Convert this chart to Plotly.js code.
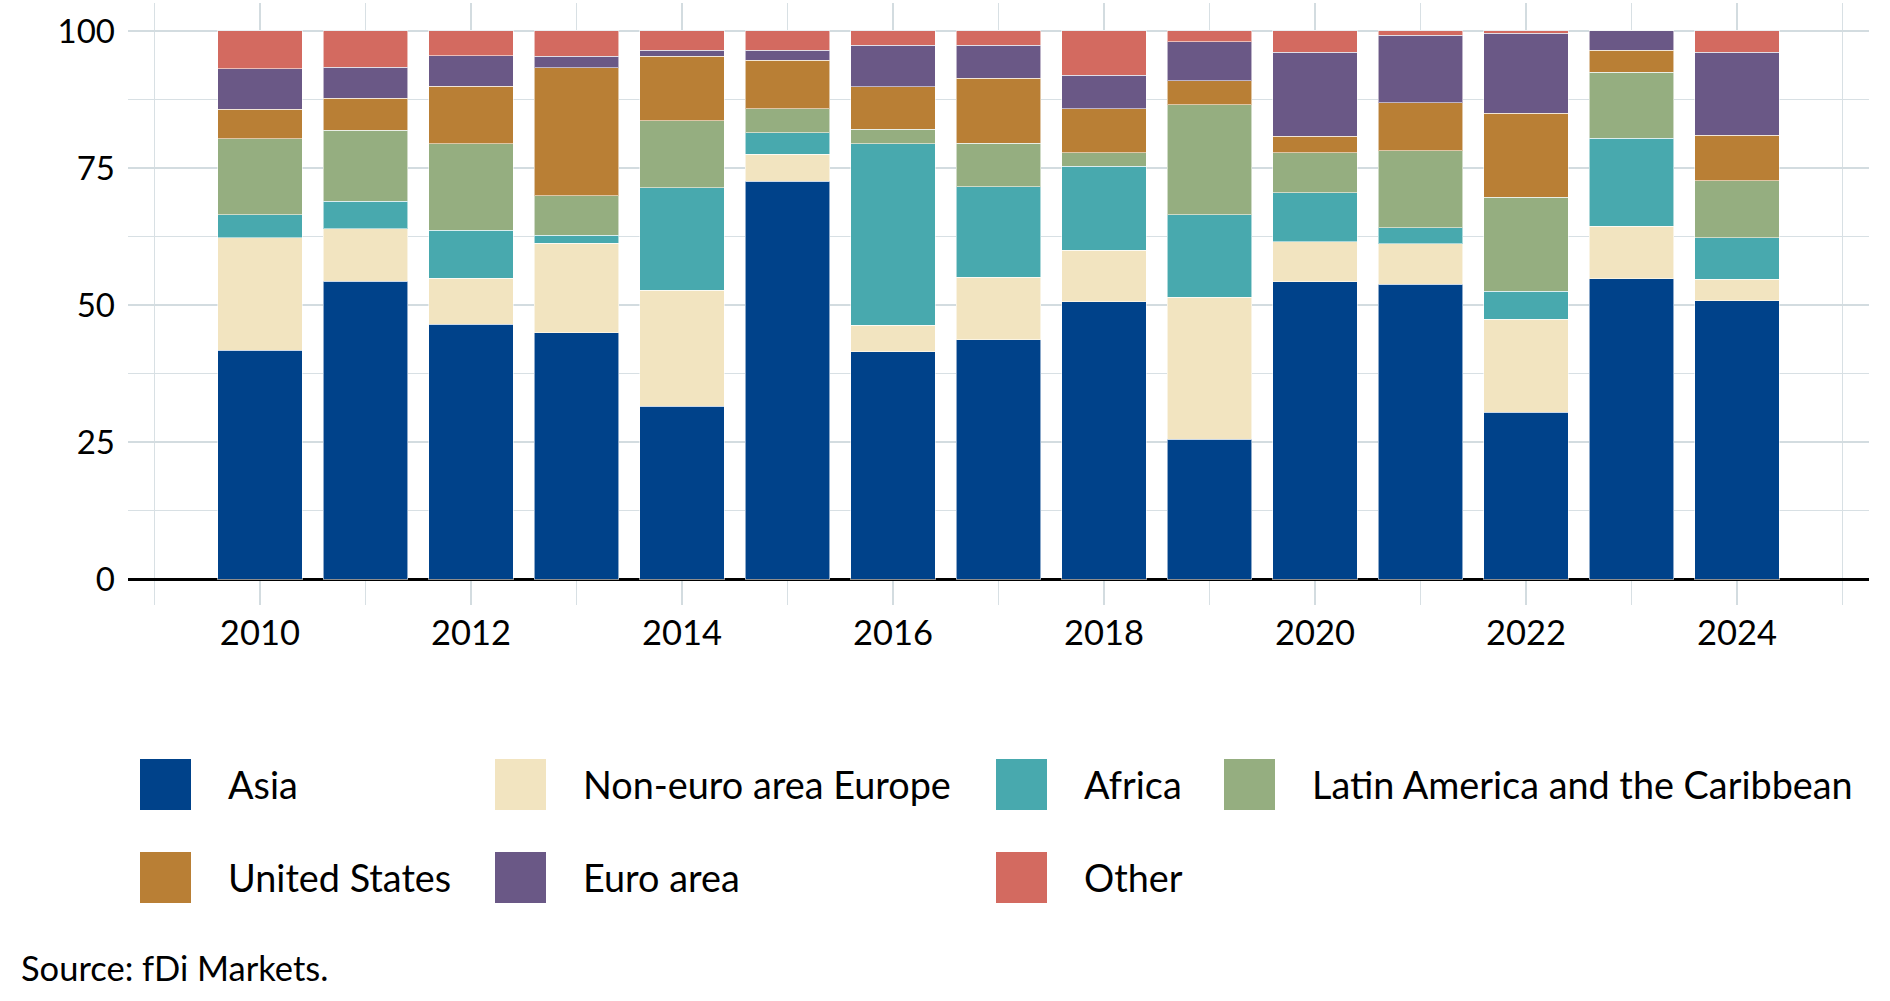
<!DOCTYPE html>
<html>
<head>
<meta charset="utf-8">
<script src="https://cdn.plot.ly/plotly-3.0.1.min.js"></script>
<style>
  html, body { margin: 0; padding: 0; background: #fff; }
  #chart { width: 1890px; height: 1001px; }
</style>
</head>
<body>
<div id="chart"></div>
<script>
// shares of projects by source region, per cent
var years = [2010, 2011, 2012, 2013, 2014, 2015, 2016, 2017, 2018, 2019, 2020, 2021, 2022, 2023, 2024];

var asia     = [41.7, 54.3, 46.5, 44.9, 31.5, 72.6, 41.5, 43.7, 50.6, 25.5, 54.2, 53.8, 30.4, 54.8, 50.8];
var nonEuro  = [20.6,  9.6,  8.4, 16.4, 21.2,  4.9,  4.8, 11.4,  9.4, 25.9,  7.3,  7.4, 17.0,  9.6,  3.9];
var africa   = [ 4.2,  5.0,  8.7,  1.4, 18.7,  3.9, 33.1, 16.5, 15.3, 15.1,  9.0,  2.9,  5.1, 16.0,  7.6];
var latAm    = [13.8, 13.0, 15.8,  7.2, 12.2,  4.4,  2.7,  7.9,  2.5, 20.0,  7.3, 14.0, 17.2, 12.1, 10.4];
var us       = [ 5.4,  5.8, 10.5, 23.4, 11.8,  8.9,  7.7, 11.9,  8.0,  4.4,  3.0,  8.8, 15.3,  4.0,  8.3];
var euroArea = [ 7.4,  5.7,  5.6,  2.1,  1.1,  1.8,  7.6,  6.0,  6.1,  7.1, 15.3, 12.3, 14.6,  3.5, 15.1];
var other    = [ 6.9,  6.6,  4.5,  4.6,  3.5,  3.5,  2.6,  2.6,  8.1,  2.0,  3.9,  0.8,  0.4,  0.0,  3.9];

var names  = ['Asia', 'Non-euro area Europe', 'Africa', 'Latin America and the Caribbean',
              'United States', 'Euro area', 'Other'];
var series = [asia, nonEuro, africa, latAm, us, euroArea, other];
var colors = ['#00428a', '#f2e4c0', '#48a9ae', '#95ae80', '#b97f35', '#6a5886', '#d36a60'];

var xTicks = [2010, 2012, 2014, 2016, 2018, 2020, 2022, 2024];
var yTicks = [0, 25, 50, 75, 100];

var W = 1890, H = 1001;
var M = {l: 128, r: 21, t: 3, b: 396};
var FONT = 'Lato, "Open Sans", sans-serif';

// pixel -> paper helpers for the legend block under the plot
function px(x) { return (x - M.l) / (W - M.l - M.r); }
function py(y) { return (H - M.b - y) / (H - M.t - M.b); }

var data = series.map(function (vals, i) {
    return {
        type: 'bar',
        name: names[i],
        x: years,
        y: vals,
        marker: {color: colors[i], line: {color: 'rgba(255,255,255,0.55)', width: 1}},
        showlegend: false,
        hovertemplate: '%{x}: %{y:.1f}<extra>' + names[i] + '</extra>'
    };
});

// legend laid out like the original: 4 columns, 2 rows
var colLeft = [140, 495, 996, 1224];
var rowMid = [784.5, 877.5];
var sw = 51;
var shapes = [], annotations = [];
names.forEach(function (n, i) {
    var c = i % 4, r = Math.floor(i / 4);
    shapes.push({
        type: 'rect', xref: 'paper', yref: 'paper',
        x0: px(colLeft[c]), x1: px(colLeft[c] + sw),
        y0: py(rowMid[r] + sw / 2), y1: py(rowMid[r] - sw / 2),
        fillcolor: colors[i], line: {width: 0}
    });
    annotations.push({
        xref: 'paper', yref: 'paper', x: px(colLeft[c] + 86), y: py(rowMid[r]),
        xanchor: 'left', yanchor: 'middle', showarrow: false,
        text: n, font: {family: FONT, size: 37.8, color: '#000'}
    });
});
annotations.push({
    xref: 'paper', yref: 'paper', x: px(19), y: py(967),
    xanchor: 'left', yanchor: 'middle', showarrow: false,
    text: 'Source: fDi Markets.', font: {family: FONT, size: 34.5, color: '#000'}
});

var layout = {
    width: W, height: H,
    margin: M,
    paper_bgcolor: '#fff',
    plot_bgcolor: '#fff',
    barmode: 'stack',
    bargap: 0.2,
    font: {family: FONT, color: '#000'},
    xaxis: {
        range: [2008.75, 2025.25],
        tickvals: xTicks,
        ticks: '',
        tickfont: {size: 34.5},
        ticklabelstandoff: 4,
        showgrid: true, gridcolor: '#d3dce0', gridwidth: 2,
        minor: {dtick: 1, showgrid: true, gridcolor: '#d8e0e4', gridwidth: 1.3},
        zeroline: false, showline: false
    },
    yaxis: {
        range: [-4.74, 105.1],
        tickvals: yTicks,
        ticks: '',
        tickfont: {size: 33},
        ticklabelstandoff: 12,
        showgrid: true, gridcolor: '#d3dce0', gridwidth: 2.5,
        minor: {dtick: 12.5, showgrid: true, gridcolor: '#d8e0e4', gridwidth: 1.3},
        zeroline: true, zerolinecolor: '#000', zerolinewidth: 3,
        showline: false
    },
    shapes: shapes,
    annotations: annotations
};

Plotly.newPlot('chart', data, layout, {displayModeBar: false, staticPlot: true});
</script>
</body>
</html>
